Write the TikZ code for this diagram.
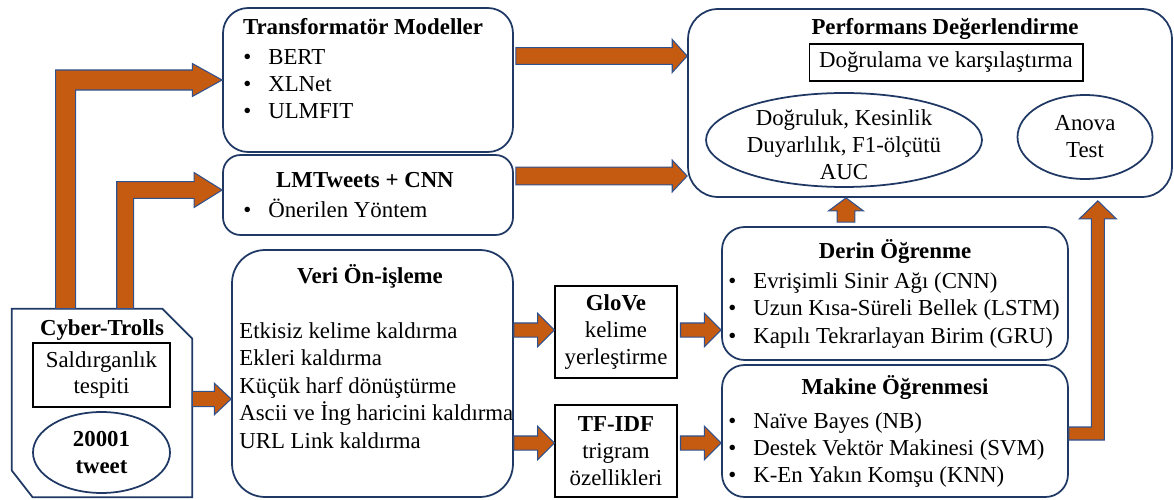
\documentclass[tikz,border=0pt]{standalone}
\usepackage{fontspec}
\setmainfont{Liberation Serif}
\usetikzlibrary{calc, shapes.geometric}

\definecolor{boxblue}{HTML}{203864}
\definecolor{arrowfill}{HTML}{C55A11}
\definecolor{arrowline}{HTML}{2F528F}

\newcommand{\mytext}{\fontsize{13}{15.3}\selectfont}

% block arrows: #3 shaft half width, #4 head half width, #5 head length
\newcommand{\harrow}[5]{%
  \filldraw[blockarrow] let \p1=(#1), \p2=(#2) in
  (\x1,\y1+#3) -- (\x2-#5,\y1+#3) -- (\x2-#5,\y1+#4) -- (\x2,\y1)
  -- (\x2-#5,\y1-#4) -- (\x2-#5,\y1-#3) -- (\x1,\y1-#3) -- cycle;}
\newcommand{\varrow}[5]{%
  \filldraw[blockarrow] let \p1=(#1), \p2=(#2) in
  (\x1-#3,\y1) -- (\x1-#3,\y2-#5) -- (\x1-#4,\y2-#5) -- (\x1,\y2)
  -- (\x1+#4,\y2-#5) -- (\x1+#3,\y2-#5) -- (\x1+#3,\y1) -- cycle;}
\newcommand{\elbowur}[5]{%
  \filldraw[blockarrow] let \p1=(#1), \p2=(#2) in
  (\x1-#3,\y1) -- (\x1-#3,\y2+#3) -- (\x2-#5,\y2+#3) -- (\x2-#5,\y2+#4) -- (\x2,\y2)
  -- (\x2-#5,\y2-#4) -- (\x2-#5,\y2-#3) -- (\x1+#3,\y2-#3) -- (\x1+#3,\y1) -- cycle;}
\newcommand{\elbowru}[5]{%
  \filldraw[blockarrow] let \p1=(#1), \p2=(#2) in
  (\x1,\y1+#3) -- (\x2-#3,\y1+#3) -- (\x2-#3,\y2-#5) -- (\x2-#4,\y2-#5) -- (\x2,\y2)
  -- (\x2+#4,\y2-#5) -- (\x2+#3,\y2-#5) -- (\x2+#3,\y1-#3) -- (\x1,\y1-#3) -- cycle;}

\begin{document}
\begin{tikzpicture}[x=0.02cm, y=-0.02cm]
	\tikzstyle{rbox} = [draw=boxblue, line width=1pt, rounded corners=0.45cm]
	\tikzstyle{plain} = [draw=black, line width=0.6pt, align=center, font=\mytext, inner sep=2pt]
	\tikzstyle{oval} = [draw=boxblue, line width=1pt, ellipse, align=center, inner sep=0pt, font=\mytext]
	\tikzstyle{boxtitle} = [anchor=base, inner sep=0pt, font=\mytext\bfseries]
	\tikzstyle{txt} = [anchor=base west, inner sep=0pt, font=\mytext]
	\tikzstyle{item} = [txt, execute at begin node={\makebox[14.2pt][l]{\textbullet}}]
	\tikzstyle{blockarrow} = [fill=arrowfill, draw=arrowline, line width=0.6pt]

	\useasboundingbox (0,0) rectangle (1174,500);

	% boxes
	\node[rbox, minimum width=5.8cm, minimum height=2.88cm, rounded corners=0.5cm] (trans) at (368,80) {};
	\node[rbox, minimum width=5.8cm, minimum height=1.6cm, rounded corners=0.35cm] (lmt) at (368,195) {};
	\node[rbox, minimum width=5.62cm, minimum height=4.94cm, rounded corners=0.66cm] (veri) at (372.5,373.5) {};
	\node[rbox, minimum width=9.68cm, minimum height=3.76cm, rounded corners=0.6cm] (perf) at (930,103) {};
	\node[rbox, minimum width=6.92cm, minimum height=2.66cm] (derin) at (895,293.5) {};
	\node[rbox, minimum width=6.92cm, minimum height=2.64cm] (makine) at (895,431) {};
	\node[minimum width=3.6cm, minimum height=3.76cm] (cyber) at (102,403) {};
	\draw[boxblue, line width=1pt] (cyber.north west) -- ($(cyber.north east)+(-30,0)$)
		-- ($(cyber.north east)+(0,30)$) -- (cyber.south east)
		-- ($(cyber.south west)+(21,0)$) -- ($(cyber.south west)+(0,-27)$) -- cycle;

	% Cyber-Trolls
	\node[boxtitle] at (102,335) {Cyber-Trolls};
	\node[plain, minimum width=2.74cm, minimum height=1.28cm] (salt) at (101.5,375) {Saldırganlık\\tespiti};
	\node[oval, minimum width=2.74cm, minimum height=1.62cm, font=\mytext\bfseries] (tweet) at (101.5,452.5) {20001\\tweet};

	% Transformatör / LMTweets
	\node[boxtitle] at (363,35) {Transformatör Modeller};
	\foreach \t [count=\i from 0] in {BERT, XLNet, ULMFIT}
		\node[item] at (243,65+27*\i) {\t};
	\node[boxtitle] at (365,188) {LMTweets + CNN};
	\node[item] at (243,217) {Önerilen Yöntem};

	% Veri Ön-işleme
	\node[boxtitle] at (370,283) {Veri Ön-işleme};
	\foreach \t [count=\i from 0] in {Etkisiz kelime kaldırma, Ekleri kaldırma, Küçük harf dönüştürme, Ascii ve İng haricini kaldırma, URL Link kaldırma}
		\node[txt] at (239,338+27.5*\i) {\t};

	% features
	\node[plain, minimum width=2.44cm, minimum height=1.84cm] (glove) at (616,332) {{\bfseries GloVe}\\kelime\\yerleştirme};
	\node[plain, minimum width=2.44cm, minimum height=1.84cm] (tfidf) at (616,451) {{\bfseries TF-IDF}\\trigram\\özellikleri};

	% Derin / Makine
	\node[boxtitle] at (895,258) {Derin Öğrenme};
	\foreach \t [count=\i from 0] in {Evrişimli Sinir Ağı (CNN), Uzun Kısa-Süreli Bellek (LSTM), Kapılı Tekrarlayan Birim (GRU)}
		\node[item] at (728,288+27.5*\i) {\t};
	\node[boxtitle] at (895,394) {Makine Öğrenmesi};
	\foreach \t [count=\i from 0] in {Naïve Bayes (NB), Destek Vektör Makinesi (SVM), K-En Yakın Komşu (KNN)}
		\node[item] at (728,428+27*\i) {\t};

	% Performans
	\node[boxtitle] at (945,35) {Performans Değerlendirme};
	\node[plain, minimum width=5.48cm, minimum height=0.74cm] (dogr) at (946,62.5) {Doğrulama ve karşılaştırma};
	\node[oval, minimum width=5.52cm, minimum height=1.88cm] (metric) at (844,140) {};
	\node[align=center, font=\mytext, inner sep=0pt] at (844,145) {Doğruluk, Kesinlik\\Duyarlılık, F1-ölçütü\\AUC};
	\node[oval, minimum width=2.7cm, minimum height=1.68cm] (anova) at (1085,137) {Anova\\Test};

	% arrows
	\elbowur{$(cyber.north west)+(54,0)$}{trans.west}{5.7pt}{9.4pt}{17pt}
	\elbowur{$(cyber.north west)+(113.5,0)$}{$(lmt.west)+(0,-5)$}{4.8pt}{9.9pt}{15.9pt}
	\harrow{$(cyber.east)+(0,-4)$}{veri.west}{4.3pt}{9pt}{9.6pt}
	\harrow{$(trans.east)+(2,-24)$}{perf.west}{4.8pt}{9.4pt}{8.5pt}
	\harrow{$(lmt.east)+(2,-19)$}{perf.west}{5.1pt}{9pt}{8.5pt}
	\harrow{$(veri.east)+(0,-43.5)$}{glove.west}{4pt}{9.6pt}{9.6pt}
	\harrow{$(glove.east)+(3,-2)$}{derin.west}{4pt}{9.6pt}{9.6pt}
	\harrow{$(veri.east)+(0,69.5)$}{tfidf.west}{4pt}{9.6pt}{9.6pt}
	\harrow{$(tfidf.east)+(3,-8)$}{makine.west}{4pt}{9.6pt}{9.6pt}
	\varrow{$(derin.north)+(-49,-4)$}{perf.south}{5.1pt}{9.9pt}{7.4pt}
	\elbowru{$(makine.east)+(0,2.5)$}{$(perf.south east)+(-75,3)$}{3.7pt}{10.5pt}{10.2pt}
\end{tikzpicture}
\end{document}
